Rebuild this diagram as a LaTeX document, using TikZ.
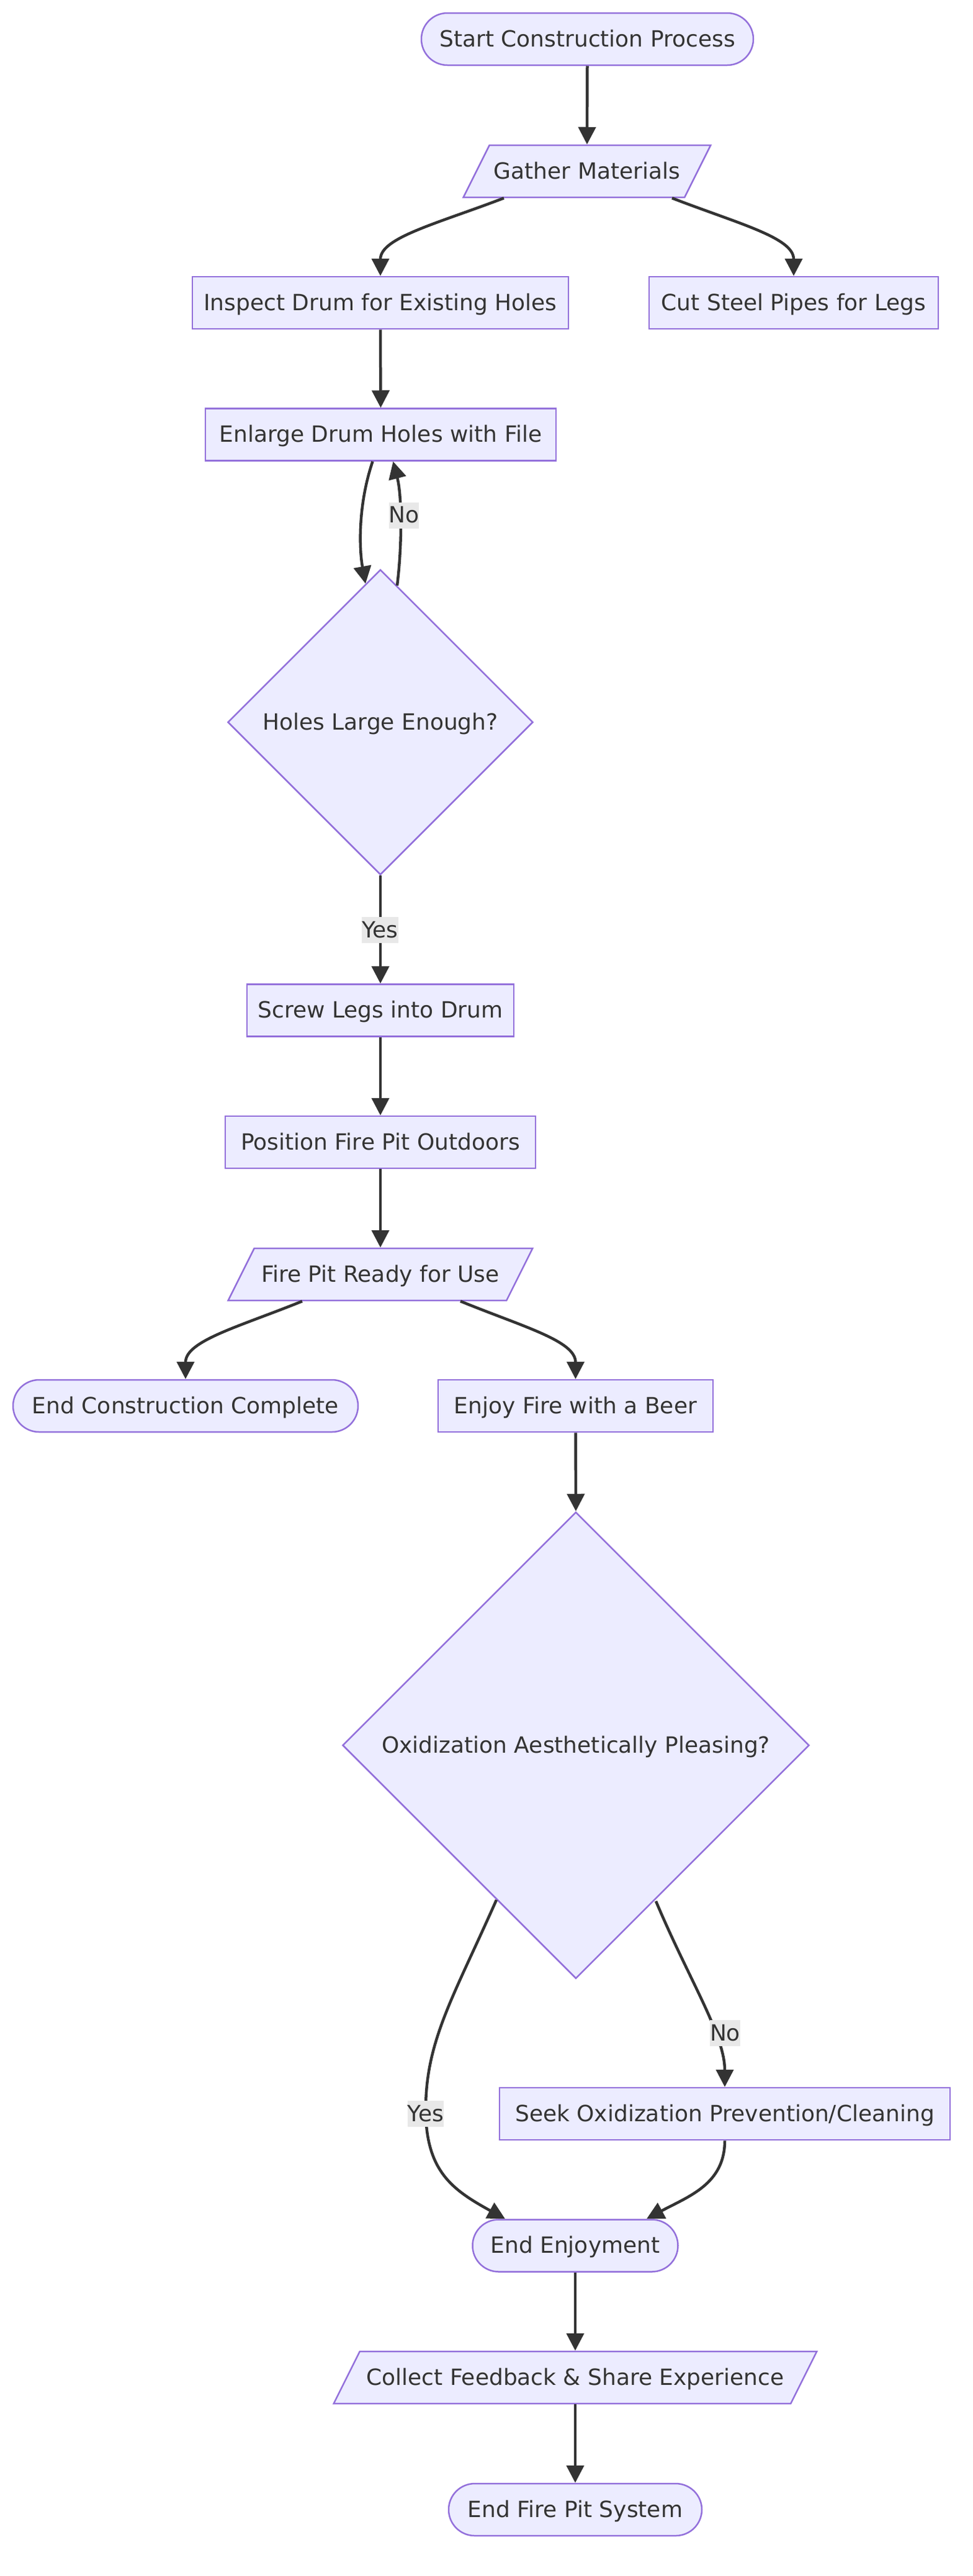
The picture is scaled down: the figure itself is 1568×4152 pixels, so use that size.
\documentclass[tikz,border=0pt]{standalone}
\usepackage{fontspec}
\setmainfont{DejaVu Sans}
\usetikzlibrary{shapes.geometric,arrows.meta,backgrounds,calc}
\definecolor{nodefill}{HTML}{ECECFF}
\definecolor{nodeline}{HTML}{9370DB}
\definecolor{ink}{HTML}{333333}
\definecolor{lblbg}{HTML}{E8E8E8}
\begin{document}
\begin{tikzpicture}[x=1pt,y=-1pt,
  every node/.style={font=\fontsize{36}{43}\selectfont, text=ink},
  base/.style={draw=nodeline, fill=nodefill, line width=2.5pt, inner sep=0pt,
    minimum height=84pt, text height=33pt, text depth=9pt},
  box/.style={base, rectangle},
  term/.style={base, rectangle, rounded corners=42pt},
  dec/.style={base, diamond, aspect=1},
  paral/.style={rectangle, inner sep=0pt, outer sep=1.25pt, minimum height=84pt,
    text height=33pt, text depth=9pt},
  paraline/.style={draw=nodeline, fill=nodefill, line width=2.5pt},
  link/.style={draw=ink, line width=4.5pt, -{Triangle[length=28pt,width=28pt]}},
  lbl/.style={fill=lblbg, inner xsep=0pt, inner ysep=0pt, text height=33pt, text depth=9pt}
]
\useasboundingbox (0,0) rectangle (1568,4152);

% nodes
\node[term, minimum width=535pt] (start) at (946.5,63) {Start Construction Process};
\node[paral, minimum width=354pt] (gather) at (946,276) {Gather Materials};
\node[box, minimum width=606pt] (inspect) at (613,488) {Inspect Drum for Existing Holes};
\node[box, minimum width=466pt] (cut) at (1279,488) {Cut Steel Pipes for Legs};
\node[box, minimum width=565pt] (enlarge) at (613.5,700.5) {Enlarge Drum Holes with File};
\node[dec, minimum width=492pt, minimum height=492pt] (holes) at (613,1164) {Holes Large Enough?};
\node[box, minimum width=430pt] (screw) at (613,1628.5) {Screw Legs into Drum};
\node[box, minimum width=500pt] (position) at (613,1841) {Position Fire Pit Outdoors};
\node[paral, minimum width=446pt] (ready) at (613,2054) {Fire Pit Ready for Use};
\node[term, minimum width=556pt] (endc) at (299,2266) {End Construction Complete};
\node[box, minimum width=443pt] (enjoy) at (927.5,2266) {Enjoy Fire with a Beer};
\node[dec, minimum width=752pt, minimum height=752pt] (oxid) at (928,2813) {Oxidization Aesthetically Pleasing?};
\node[box, minimum width=726pt] (seek) at (1168,3407) {Seek Oxidization Prevention/Cleaning};
\node[term, minimum width=331pt] (endenj) at (927,3619.5) {End Enjoyment};
\node[paral, minimum width=734pt] (collect) at (927,3832) {Collect Feedback \& Share Experience};
\node[term, minimum width=408pt] (endfp) at (927,4045) {End Fire Pit System};

% background and parallelogram outlines
\begin{scope}[on background layer]
\fill[white] (0,0) rectangle (1568,4152);
\foreach \p in {gather,ready,collect}{
  \path[paraline] ([xshift=-21pt,yshift=1.25pt]\p.south west) -- ([xshift=21pt,yshift=-1.25pt]\p.north west)
    -- ([xshift=21pt,yshift=-1.25pt]\p.north east) -- ([xshift=-21pt,yshift=1.25pt]\p.south east) -- cycle;
}
\end{scope}

% connectors
\draw[link] (start.south) -- (gather.north);
\draw[link] ([xshift=-134pt]gather.south) .. controls (703,361) and (613,383) .. (inspect.north);
\draw[link] ([xshift=137pt]gather.south) .. controls (1191,361) and (1279,383) .. (cut.north);
\draw[link] (inspect.south) -- (enlarge.north);
\draw[link] ([xshift=-13pt]enlarge.south) .. controls (578,810) and (578,880) .. ($(holes.north)+(-24,24)$);
\draw[link] ($(holes.north)+(27,27)$) .. controls (648,880) and (648,800) .. ([xshift=20pt]enlarge.south);
\draw[link] (holes.south) -- (screw.north);
\draw[link] (screw.south) -- (position.north);
\draw[link] (position.south) -- (ready.north);
\draw[link] ([xshift=-126pt]ready.south) .. controls (384,2139) and (299,2161) .. (endc.north);
\draw[link] ([xshift=129pt]ready.south) .. controls (844,2139) and (927.5,2161) .. (enjoy.north);
\draw[link] (enjoy.south) -- (oxid.north);
\draw[link] ($(oxid.south)+(-128,-128)$) .. controls (730,3220) and (686,3290) .. (686,3400)
   .. controls (686,3500) and (730,3530) .. ($(endenj.north)+(-113,0)$);
\draw[link] ($(oxid.south)+(129,-126)$) .. controls (1110,3190) and (1168,3280) .. (seek.north);
\draw[link] (seek.south) .. controls (1168,3520) and (1110,3540) .. ($(endenj.north)+(115,0)$);
\draw[link] (endenj.south) -- (collect.north);
\draw[link] (collect.south) -- (endfp.north);

% edge labels
\node[lbl] (lno1) at (651,830.5) {No};
\node[lbl] (lyes1) at (612.5,1499) {Yes};
\node[lbl] (lyes2) at (686,3407) {Yes};
\node[lbl] (lno2) at (1168.5,3277) {No};
\end{tikzpicture}
\end{document}
